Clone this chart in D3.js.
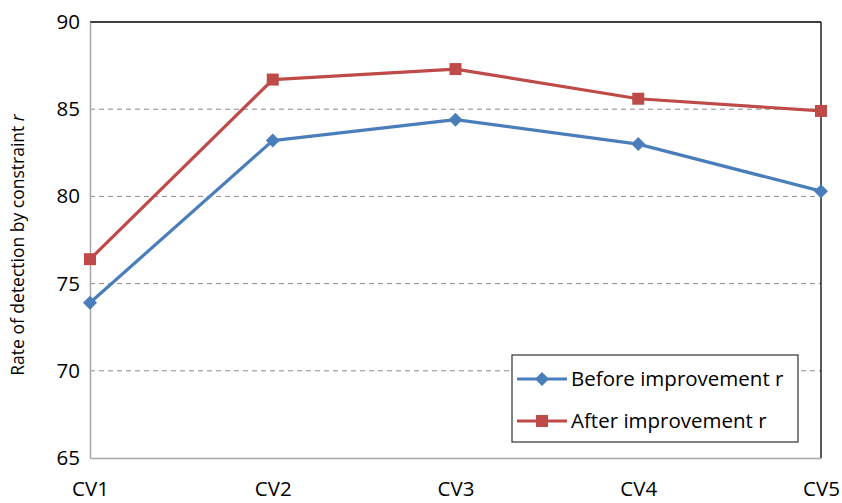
<!DOCTYPE html>
<html><head><meta charset="utf-8">
<script src="https://cdn.jsdelivr.net/npm/d3@7/dist/d3.min.js"></script>
<style>body{margin:0;background:#fff;} text{font-family:"Open Sans",Lato,sans-serif;}</style>
</head><body>
<svg id="c" width="842" height="503"></svg>
<script>
const categories = ["CV1","CV2","CV3","CV4","CV5"];
const beforeValues = [73.9, 83.2, 84.4, 83.0, 80.3];
const afterValues = [76.4, 86.7, 87.3, 85.6, 84.9];
const yTicks = [65, 70, 75, 80, 85, 90];
const seriesNames = ["Before improvement r", "After improvement r"];

const svg = d3.select("#c");
const L = 90, R = 821, T = 22, B = 458;
const x = d3.scalePoint().domain(categories).range([L, R]);
const y = d3.scaleLinear().domain([65, 90]).range([B, T]);
const FONT = "Open Sans";

// gridlines
svg.append("g").selectAll("line").data(yTicks.filter(d => d > 65 && d < 90)).join("line")
  .attr("x1", L).attr("x2", R).attr("y1", d => y(d)).attr("y2", d => y(d))
  .attr("stroke", "#8c8c8c").attr("stroke-width", 1).attr("stroke-dasharray", "5,4");

// frame
svg.append("line").attr("x1", L).attr("x2", R).attr("y1", T).attr("y2", T).attr("stroke", "#000").attr("stroke-width", 1.3);
svg.append("line").attr("x1", R).attr("x2", R).attr("y1", T).attr("y2", B).attr("stroke", "#000").attr("stroke-width", 1.3);

// axes
const yAxis = svg.append("g").attr("transform", `translate(${L},0)`)
  .call(d3.axisLeft(y).tickValues(yTicks).tickSize(0).tickPadding(10));
yAxis.select(".domain").attr("stroke", "#a6a6a6").attr("stroke-width", 1.5);
yAxis.selectAll("text").attr("font-size", 20.5).attr("fill", "#000").attr("font-family", FONT);

const xAxis = svg.append("g").attr("transform", `translate(0,${B})`)
  .call(d3.axisBottom(x).tickSize(0).tickPadding(23));
xAxis.select(".domain").attr("stroke", "#a6a6a6").attr("stroke-width", 1.5);
xAxis.selectAll("text").attr("font-size", 20.5).attr("fill", "#000").attr("font-family", FONT);

// y label
const yl = svg.append("text").attr("transform", "translate(24,245) rotate(-90)")
  .attr("text-anchor", "middle").attr("font-size", 17.5).attr("fill", "#000");
yl.append("tspan").text("Rate of detection by constraint ");
yl.append("tspan").attr("font-style", "italic").text("r");

const colors = ["#4a7ebb", "#be4b48"];
const line = d3.line().x((d, i) => x(categories[i])).y(d => y(d));
const data = [beforeValues, afterValues];
data.forEach((vals, k) => {
  svg.append("path").datum(vals).attr("d", line).attr("fill", "none")
    .attr("stroke", colors[k]).attr("stroke-width", 3.2).attr("stroke-linejoin", "round");
});
// markers
const diamond = d3.symbol().type(d3.symbolSquare).size(98);
svg.append("g").selectAll("path").data(beforeValues).join("path")
  .attr("d", diamond()).attr("fill", colors[0])
  .attr("transform", (d, i) => `translate(${x(categories[i])},${y(d)}) rotate(45)`);
svg.append("g").selectAll("rect").data(afterValues).join("rect")
  .attr("x", (d, i) => x(categories[i]) - 6).attr("y", d => y(d) - 6)
  .attr("width", 12).attr("height", 12).attr("fill", colors[1]);

// legend
const lg = svg.append("g");
lg.append("rect").attr("x", 512).attr("y", 355).attr("width", 286).attr("height", 87)
  .attr("fill", "#fff").attr("stroke", "#404040").attr("stroke-width", 1.3);
seriesNames.forEach((name, k) => {
  const yy = 379 + k * 42;
  lg.append("line").attr("x1", 517).attr("x2", 567).attr("y1", yy).attr("y2", yy)
    .attr("stroke", colors[k]).attr("stroke-width", 3.2);
  if (k === 0) {
    lg.append("path").attr("d", diamond()).attr("fill", colors[0])
      .attr("transform", `translate(542,${yy}) rotate(45)`);
  } else {
    lg.append("rect").attr("x", 536).attr("y", yy - 6).attr("width", 12).attr("height", 12).attr("fill", colors[1]);
  }
  lg.append("text").attr("x", 571).attr("y", yy + 7).attr("font-size", 20.5).attr("fill", "#000").text(name);
});
</script>
</body></html>
